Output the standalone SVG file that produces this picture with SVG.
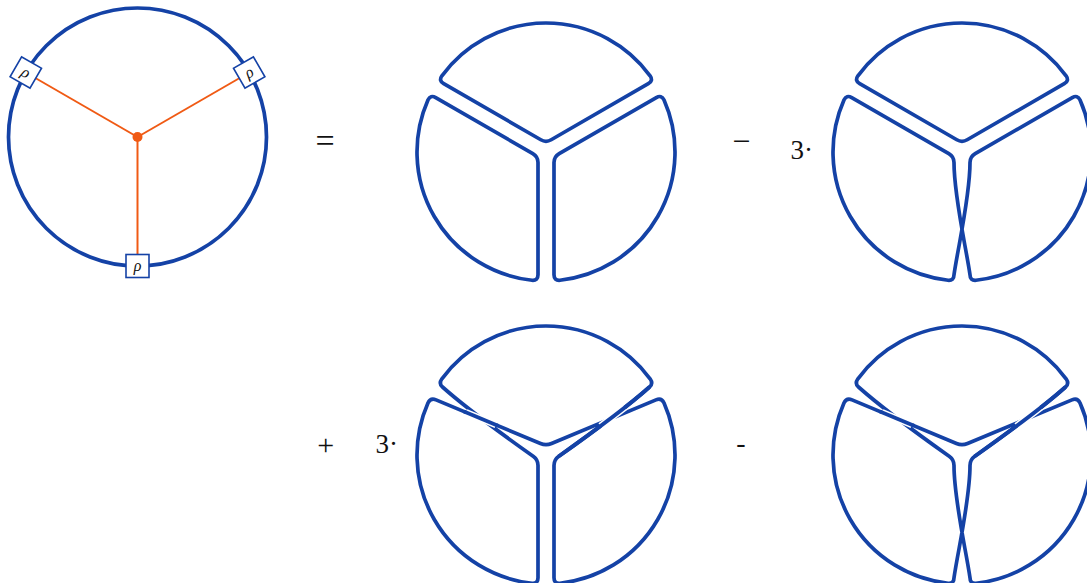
<svg xmlns="http://www.w3.org/2000/svg" width="1087" height="583" viewBox="0 0 1087 583">
<style>
.b{fill:none;stroke:#1442a6;stroke-width:3.7;stroke-linejoin:round}
.h{fill:none;stroke:#fff;stroke-width:7}
.o{stroke:#f05a14;stroke-width:2}
.box{fill:#fff;stroke:#1442a6;stroke-width:1.6}
.rho{font-family:"Liberation Serif",serif;font-style:italic;font-size:16px;fill:#111;text-anchor:middle}
.op{font-family:"Liberation Serif",serif;fill:#111}
</style>
<defs>
<path id="pTop" d="M -5.196,-12.238 L -102.30,-68.30 Q -107.50,-71.30 -104.08,-76.21 A 129 129 0 0 1 104.08,-76.21 Q 107.50,-71.30 102.30,-68.30 L 5.196,-12.238 Q 0,-9.238 -5.196,-12.238 Z"/>
<path id="pLeft" d="M -13.196,1.619 L -110.30,-54.45 Q -115.50,-57.45 -118.04,-52.03 A 129 129 0 0 0 -13.98,128.24 Q -8,128.75 -8,122.75 L -8,10.619 Q -8,4.619 -13.196,1.619 Z"/>
<path id="pRight" d="M 13.196,1.619 L 110.30,-54.45 Q 115.50,-57.45 118.04,-52.03 A 129 129 0 0 1 13.98,128.24 Q 8,128.75 8,122.75 L 8,10.619 Q 8,4.619 13.196,1.619 Z"/>
<path id="pVtw" d="M -13.196,1.619 L -110.30,-54.45 Q -115.50,-57.45 -118.04,-52.03 A 129 129 0 0 0 -13.98,128.24 Q -8,128.75 -8,122.75 C -4,95 8,45 8,10.619 Q 8,4.619 13.196,1.619 L 110.30,-54.45 Q 115.50,-57.45 118.04,-52.03 A 129 129 0 0 1 13.98,128.24 Q 8,128.75 8,122.75 C 4,95 -8,45 -8,10.619 Q -8,4.619 -13.196,1.619 Z"/>
<path id="pUtw" d="M -104.08,-76.21 Q -107.50,-71.30 -103.5,-68 C -80,-47 -40,-18 -12.5,1.5 Q -8,4.619 -8,10.619 L -8,122.75 Q -8,128.75 -13.98,128.24 A 129 129 0 0 1 -118.04,-52.03 Q -115.50,-57.45 -109.96,-55.14 L -5.537,-11.549 Q 0,-9.238 5.537,-11.549 L 109.96,-55.14 Q 115.50,-57.45 118.04,-52.03 A 129 129 0 0 1 13.98,128.24 Q 8,128.75 8,122.75 L 8,10.619 Q 8,4.619 12.5,1.5 C 40,-18 80,-47 103.5,-68 Q 107.50,-71.30 104.08,-76.21 A 129 129 0 0 0 -104.08,-76.21 Z"/>
<path id="pAtw" d="M -104.08,-76.21 Q -107.50,-71.30 -103.5,-68 C -80,-47 -40,-18 -12.5,1.5 Q -8,4.619 -8,10.619 C -8,45 4,95 8,122.75 Q 8,128.75 13.98,128.24 A 129 129 0 0 0 118.04,-52.03 Q 115.50,-57.45 109.96,-55.14 L 5.537,-11.549 Q 0,-9.238 -5.537,-11.549 L -109.96,-55.14 Q -115.50,-57.45 -118.04,-52.03 A 129 129 0 0 0 -13.98,128.24 Q -8,128.75 -8,122.75 C -4,95 8,45 8,10.619 Q 8,4.619 12.5,1.5 C 40,-18 80,-47 103.5,-68 Q 107.50,-71.30 104.08,-76.21 A 129 129 0 0 0 -104.08,-76.21 Z"/>
<g id="overs">
<path class="h" d="M -80,-42.63 L -50,-30.11"/>
<path class="h" d="M 78.68,-47.41 L 54.58,-29.00"/>
<path class="b" stroke-linecap="butt" d="M -82,-43.46 L -48,-29.28"/>
<path class="b" d="M 103.5,-68 C 80,-47 40,-18 12.5,1.5"/>
</g>
</defs>

<g id="connectors">
<line class="o" x1="137.5" y1="137" x2="25.8" y2="72.5"/>
<line class="o" x1="137.5" y1="137" x2="249.2" y2="72.5"/>
<line class="o" x1="137.5" y1="137" x2="137.5" y2="266"/>
</g>

<g id="lhs">
<circle class="b" cx="137.5" cy="137" r="129"/>
<circle cx="137.5" cy="137" r="5" fill="#f05a14"/>
</g>
<g id="rho-left" transform="translate(25.8,72.5) rotate(30)">
<rect class="box" x="-11.5" y="-11.5" width="23" height="23"/>
<text class="rho" x="0" y="5">ρ</text>
</g>
<g id="rho-right" transform="translate(249.2,72.5) rotate(-30)">
<rect class="box" x="-11.5" y="-11.5" width="23" height="23"/>
<text class="rho" x="0" y="5">ρ</text>
</g>
<g id="rho-bottom" transform="translate(137.5,266)">
<rect class="box" x="-11.5" y="-11.5" width="23" height="23"/>
<text class="rho" x="0" y="5">ρ</text>
</g>

<g id="term1" transform="translate(546,152)">
<use href="#pTop" class="b"/>
<use href="#pLeft" class="b"/>
<use href="#pRight" class="b"/>
</g>
<g id="term2" transform="translate(962,152)">
<use href="#pTop" class="b"/>
<use href="#pVtw" class="b"/>
</g>
<g id="term3" transform="translate(546,455)">
<use href="#pUtw" class="b"/>
<use href="#overs"/>
</g>
<g id="term4" transform="translate(962,455)">
<use href="#pAtw" class="b"/>
<use href="#overs"/>
</g>

<g id="operators">
<text class="op" x="325" y="151.5" font-size="34" text-anchor="middle">=</text>
<text class="op" x="741.3" y="152" font-size="32" text-anchor="middle">−</text>
<text class="op" x="790.5" y="159" font-size="27">3·</text>
<text class="op" x="325.7" y="455" font-size="30" text-anchor="middle">+</text>
<text class="op" x="375.5" y="452.5" font-size="27">3·</text>
<text class="op" x="740.8" y="452" font-size="28" text-anchor="middle">-</text>
</g>
</svg>
